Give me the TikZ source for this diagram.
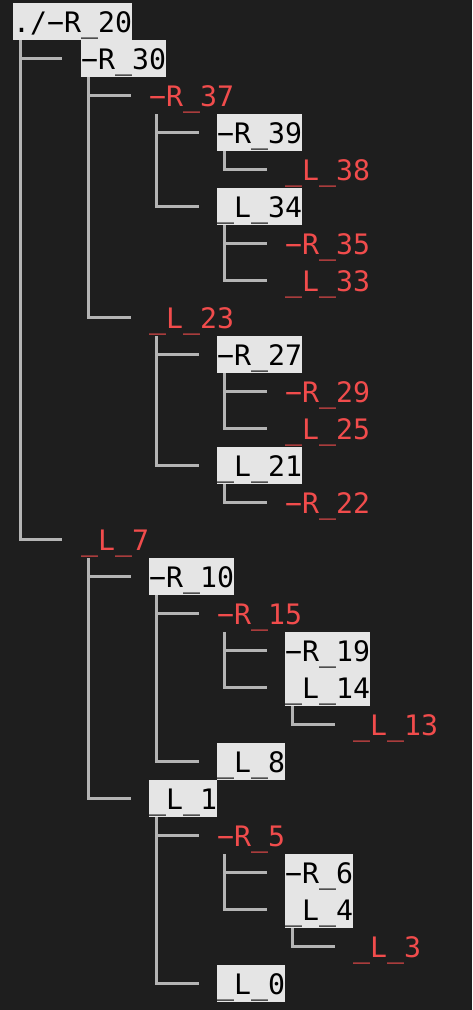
\documentclass[tikz,border=0pt]{standalone}
\usepackage{fontspec}
\setmonofont{DejaVu Sans Mono}
\usepackage{tikz}
\usetikzlibrary{positioning}
\definecolor{termbg}{HTML}{1E1E1E}
\definecolor{termhl}{HTML}{E5E5E5}
\definecolor{termred}{HTML}{F14C4C}
\definecolor{termline}{HTML}{B4B4B4}
\tikzset{
  leaf/.style={anchor=west,inner sep=0pt,text height=29pt,text depth=8pt,font=\fontsize{28.2}{37}\ttfamily},
  hlnode/.style={leaf,fill=termhl,text=black},
  rdnode/.style={leaf,text=termred},
  branch/.style={draw=termline,line width=2.4pt},
}
\newcommand{\tbranch}[2]{\draw[branch] ([xshift=7.5pt]#1.south west) |- ([xshift=-18.5pt]#2.west);}
\begin{document}
\begin{tikzpicture}[x=68pt,y=-37pt]
    \fill[termbg] (-13pt,21.5pt) rectangle (459pt,-988.5pt);
    \node[hlnode] (r20) at (0,0) {./−R\_20};
    \node[hlnode] (r30) at (1,1) {−R\_30};
    \node[rdnode] (r37) at (2,2) {−R\_37};
    \node[hlnode] (r39) at (3,3) {−R\_39};
    \node[rdnode] (l38) at (4,4) {\_L\_38};
    \node[hlnode] (l34) at (3,5) {\_L\_34};
    \node[rdnode] (r35) at (4,6) {−R\_35};
    \node[rdnode] (l33) at (4,7) {\_L\_33};
    \node[rdnode] (l23) at (2,8) {\_L\_23};
    \node[hlnode] (r27) at (3,9) {−R\_27};
    \node[rdnode] (r29) at (4,10) {−R\_29};
    \node[rdnode] (l25) at (4,11) {\_L\_25};
    \node[hlnode] (l21) at (3,12) {\_L\_21};
    \node[rdnode] (r22) at (4,13) {−R\_22};
    \node[rdnode] (l7) at (1,14) {\_L\_7};
    \node[hlnode] (r10) at (2,15) {−R\_10};
    \node[rdnode] (r15) at (3,16) {−R\_15};
    \node[hlnode] (r19) at (4,17) {−R\_19};
    \node[hlnode] (l14) at (4,18) {\_L\_14};
    \node[rdnode] (l13) at (5,19) {\_L\_13};
    \node[hlnode] (l8) at (3,20) {\_L\_8};
    \node[hlnode] (l1) at (2,21) {\_L\_1};
    \node[rdnode] (r5) at (3,22) {−R\_5};
    \node[hlnode] (r6) at (4,23) {−R\_6};
    \node[hlnode] (l4) at (4,24) {\_L\_4};
    \node[rdnode] (l3) at (5,25) {\_L\_3};
    \node[hlnode] (l0) at (3,26) {\_L\_0};
    % tree branches
    \tbranch{r20}{r30}
    \tbranch{r20}{l7}
    \tbranch{r30}{r37}
    \tbranch{r30}{l23}
    \tbranch{r37}{r39}
    \tbranch{r37}{l34}
    \tbranch{r39}{l38}
    \tbranch{l34}{r35}
    \tbranch{l34}{l33}
    \tbranch{l23}{r27}
    \tbranch{l23}{l21}
    \tbranch{r27}{r29}
    \tbranch{r27}{l25}
    \tbranch{l21}{r22}
    \tbranch{l7}{r10}
    \tbranch{l7}{l1}
    \tbranch{r10}{r15}
    \tbranch{r10}{l8}
    \tbranch{r15}{r19}
    \tbranch{r15}{l14}
    \tbranch{l14}{l13}
    \tbranch{l1}{r5}
    \tbranch{l1}{l0}
    \tbranch{r5}{r6}
    \tbranch{r5}{l4}
    \tbranch{l4}{l3}
  \end{tikzpicture}
\end{document}
